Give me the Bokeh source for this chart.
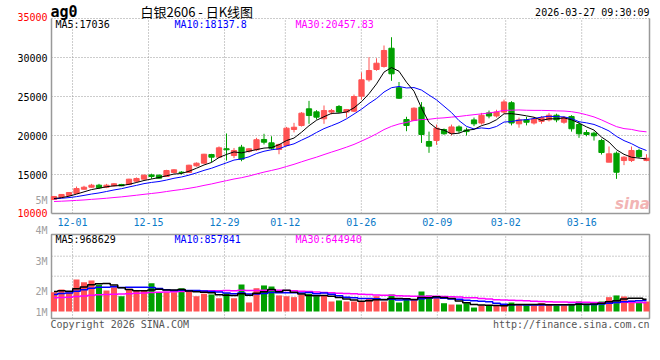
import numpy as np
from bokeh.plotting import figure
from bokeh.models import Range1d, Label
from bokeh.embed import file_html
from bokeh.resources import INLINE

# ---------------- data ----------------
opens = [11800, 12090, 12310, 12560, 13110, 13370, 13630, 13370, 13550, 13720,
         13720, 14140, 14400, 14950, 14910, 14740, 15260, 15300, 15260, 16110,
         16450, 17560, 17220, 18300, 17430, 18500, 17990, 18170, 19490, 19060,
         18210, 18720, 20770, 21280, 23420, 23030, 22140, 23000, 23720, 23000,
         23120, 25040, 27140, 28460, 28850, 31190, 26120, 22050, 21920, 23630,
         19230, 19360, 20770, 20300, 21100, 20700, 22000, 21600, 22900, 22500,
         23000, 24200, 21500, 22000, 21600, 21800, 22000, 22600, 21700, 22440,
         21410, 20380, 20300, 19360, 16580, 17730, 16790, 16790, 18080, 16790]
highs = [12250, 12500, 12750, 13460, 13550, 13800, 13800, 13800, 13900, 13800,
         14450, 14620, 15000, 15100, 15000, 15600, 15680, 15420, 16250, 16550,
         17650, 17650, 18600, 20260, 18400, 18800, 18400, 19700, 20220, 19900,
         18950, 21100, 21620, 23000, 24440, 23250, 23850, 23400, 23900, 23400,
         25250, 28090, 30040, 29900, 31540, 32600, 26860, 22400, 23600, 24280,
         20500, 21400, 20900, 21400, 21300, 21000, 22300, 22900, 23200, 23300,
         24600, 24400, 22300, 22400, 22400, 22500, 22900, 22800, 22500, 22600,
         21700, 20700, 20500, 19580, 18590, 17950, 17350, 18590, 18300, 17600]
lows = [11750, 12050, 12250, 12500, 13050, 13300, 13150, 13250, 13450, 13500,
        13650, 13950, 14350, 14450, 14450, 14700, 15130, 15000, 15200, 16000,
        16400, 16580, 17150, 16790, 17100, 16700, 17800, 18000, 18850, 18170,
        17600, 18600, 20400, 21150, 21500, 22050, 21500, 22700, 22900, 22300,
        23000, 24620, 26900, 28300, 28700, 27010, 24700, 20550, 21850, 19050,
        17780, 18800, 20100, 20000, 20300, 20000, 21200, 21400, 22200, 22300,
        22800, 21300, 21000, 21300, 21400, 21500, 21800, 21700, 21500, 20500,
        19700, 19900, 19350, 17560, 16580, 14440, 16200, 16600, 17100, 16700]
closes = [12180, 12440, 12690, 13200, 13370, 13630, 13300, 13630, 13810, 13550,
          14400, 14490, 14910, 14740, 14530, 15510, 15600, 15260, 16190, 16450,
          17600, 17220, 18420, 18170, 18080, 16960, 18290, 19460, 19140, 18370,
          18850, 20940, 21060, 22860, 22560, 22350, 23200, 23200, 23000, 23330,
          25000, 27140, 28330, 29270, 30900, 27910, 24780, 21280, 23500, 20130,
          18630, 20940, 20220, 21100, 20600, 20500, 21500, 22600, 22500, 23000,
          24300, 21600, 22000, 21700, 22100, 22300, 22600, 22000, 22300, 20860,
          20220, 20130, 19960, 17820, 17650, 15290, 17220, 18080, 17300, 17090]
volumes = [1470000, 1670000, 1470000, 2430000, 2230000, 2360000, 2030000, 1600000, 1850000, 1160000,
           1720000, 1550000, 1570000, 2150000, 1470000, 1470000, 1470000, 1770000, 1600000, 1160000,
           1340000, 1290000, 1010000, 1390000, 1010000, 2050000, 680000, 1770000, 1980000, 1900000,
           1220000, 1160000, 1090000, 1270000, 1340000, 1160000, 1220000, 760000, 840000, 760000,
           760000, 760000, 1010000, 1160000, 760000, 1290000, 680000, 910000, 910000, 1520000,
           1220000, 1040000, 630000, 530000, 530000, 630000, 300000, 460000, 460000, 460000,
           530000, 680000, 510000, 460000, 460000, 630000, 510000, 460000, 460000, 530000,
           760000, 530000, 530000, 760000, 1090000, 1220000, 1140000, 840000, 710000, 760000]
# closes / volumes of the 29 sessions before the window (needed for the moving averages)
prior_closes = [11200, 11350, 11500, 11650, 11400, 11250, 11300, 11100, 11050, 11200,
                11350, 11450, 11500, 11300, 11250, 11400, 11550, 11600, 11500, 11400,
                11700, 11850, 11950, 11800, 11900, 11900, 11750, 11850, 11920]
prior_volumes = [850000, 950000, 1050000, 900000, 800000, 850000, 950000, 1000000, 900000, 850000,
                 800000, 900000, 1000000, 950000, 900000, 850000, 950000, 1000000, 900000, 950000,
                 950000, 1000000, 1100000, 1050000, 1200000, 1400000, 1600000, 1500000, 1630000]

tick_labels = ["12-01", "12-15", "12-29", "01-12", "01-26", "02-09", "03-02", "03-16"]
tick_index = [3, 13, 23, 31, 41, 51, 60, 70]
price_ticks = [15000, 20000, 25000, 30000]
price_lo, price_hi = 10000, 35000
vol_labels = ["5M", "4M", "3M", "2M", "1M"]
title_code = "ag0"
title_text = "白银2606 - 日K线图"
timestamp = "2026-03-27 09:30:09"
ma_price_texts = ["MA5:17036", "MA10:18137.8", "MA30:20457.83"]
ma_vol_texts = ["MA5:968629", "MA10:857841", "MA30:644940"]

# ---------------- derived ----------------
n = len(closes)
idx = np.arange(n)
o = np.array(opens, float); h = np.array(highs, float)
l = np.array(lows, float); c = np.array(closes, float)
v = np.array(volumes, float)
allc = np.array(prior_closes + closes, float)
allv = np.array(prior_volumes + volumes, float)
P = len(prior_closes)


def ma(arr, k):
    return np.array([arr[P + i - k + 1:P + i + 1].mean() for i in range(n)])


up = c >= o
RED, GREEN = "#ff5353", "#00a000"
MONO = "DejaVu Sans Mono"
GRID = "#999999"
W, H = 660, 360

# ---- layout (pixels) ----
STEP = 7.5            # px per session
X_FIRST = 53.5        # px of first candle centre
PX0, PX1 = 51, 649    # panel left / right edge
PY_TOP, PY_BOT = 18, 213      # price panel top/bottom
VY_TOP, VY_BOT, VY_BASE = 234, 318, 311   # volume panel
VPX = 76000.0         # volume units per px
GRID_SCALE, GRID_SHIFT = 1.0133, -0.53
tick_pos = [3 + (i - 3) * GRID_SCALE + GRID_SHIFT for i in tick_index]

ppx = (price_hi - price_lo) / (PY_BOT - PY_TOP)   # price units per px
x_range = Range1d(-X_FIRST / STEP, (W - X_FIRST) / STEP)
y_range = Range1d(price_lo - (H - PY_BOT) * ppx, price_hi + PY_TOP * ppx)
vol_range = Range1d(-(H - VY_BASE) * VPX, VY_BASE * VPX)
dx0, dx1 = (PX0 - X_FIRST) / STEP, (PX1 - X_FIRST) / STEP
vlo, vhi = -(VY_BOT - VY_BASE) * VPX, (VY_BASE - VY_TOP) * VPX

p = figure(width=W, height=H, x_range=x_range, y_range=y_range,
           output_backend="svg", toolbar_location=None,
           x_axis_location=None, y_axis_location=None,
           min_border=0, min_border_left=0, min_border_right=0,
           min_border_top=0, min_border_bottom=0)
p.extra_y_ranges = {"vol": vol_range}
p.outline_line_color = None
p.background_fill_color = "white"
p.border_fill_color = "white"
p.grid.visible = False

# ---- grids ----
p.segment(x0=tick_pos, x1=tick_pos, y0=price_lo, y1=price_hi,
          line_color=GRID, line_dash="1 2", line_width=1)
p.segment(x0=dx0, x1=dx1, y0=price_ticks, y1=price_ticks,
          line_color=GRID, line_dash="1 2", line_width=1)
p.segment(x0=dx0, x1=dx1, y0=price_hi, y1=price_hi,
          line_color=GRID, line_dash="1 2", line_width=1)
vgrid = [(VY_BASE - y) * VPX for y in (255.7, 275.7, 295.7)]
p.segment(x0=tick_pos, x1=tick_pos, y0=vlo, y1=vhi, y_range_name="vol",
          line_color=GRID, line_dash="1 2", line_width=1)
p.segment(x0=dx0, x1=dx1, y0=vgrid, y1=vgrid, y_range_name="vol",
          line_color=GRID, line_dash="1 2", line_width=1)

# ---- panel borders ----
p.segment(x0=[dx0, dx1, dx0], x1=[dx0, dx1, dx1], y0=[price_lo, price_lo, price_lo],
          y1=[price_hi, price_hi, price_lo], line_color=GRID, line_width=1.5)
p.quad(left=dx0, right=dx1, bottom=vlo, top=vhi, y_range_name="vol",
       fill_color=None, line_color=GRID, line_width=1.5)

# ---- candles ----
col = [RED if u else GREEN for u in up]
p.segment(x0=idx, y0=l, x1=idx, y1=h, line_color=col, line_width=1)
p.vbar(x=idx, top=np.maximum(o, c), bottom=np.minimum(o, c), width=0.7,
       fill_color=col, line_color=col, line_width=1)

p.line(idx, ma(allc, 30), line_color="#ff00ff", line_width=1)
p.line(idx, ma(allc, 10), line_color="#0000ff", line_width=1)
p.line(idx, ma(allc, 5), line_color="#000000", line_width=1)

# ---- volume ----
p.vbar(x=idx, top=v, bottom=0, width=0.8, fill_color=col, line_color=None, y_range_name="vol")
p.step(idx, ma(allv, 30), mode="center", line_color="#ff00ff", line_width=1.5, y_range_name="vol")
p.step(idx, ma(allv, 10), mode="center", line_color="#0000ff", line_width=1.5, y_range_name="vol")
p.step(idx, ma(allv, 5), mode="center", line_color="#000000", line_width=1.5, y_range_name="vol")


# ---- texts ----
def txt(text, X, Y, color="#000000", size="10px", align="left", font=MONO, style="normal"):
    p.add_layout(Label(x=X, y=H - Y, x_units="screen", y_units="screen", text=text,
                       text_color=color, text_font_size=size, text_align=align,
                       text_baseline="middle", text_font=font, text_font_style=style))


txt(title_code, 50, 11, size="15px", style="bold")
txt(title_text, 140, 11, size="13px", font="Noto Sans CJK SC")
txt(timestamp, 649, 12, align="right")
for t, X, colr in zip(ma_price_texts, [55, 174, 295], ["#000000", "#0000ff", "#ff00ff"]):
    txt(t, X, 24, color=colr)
for t, X, colr in zip(ma_vol_texts, [55, 174, 295], ["#000000", "#0000ff", "#ff00ff"]):
    txt(t, X, 238.5, color=colr)

# price axis labels (positioned through the price scale)
for val in [price_lo] + price_ticks + [price_hi]:
    colr = "#ff0000" if val in (price_lo, price_hi) else "#000000"
    dy = {price_hi: 2, price_lo: 1}.get(val, 0)
    p.add_layout(Label(x=47, x_units="screen", y=val, y_offset=dy, text=str(val), text_color=colr,
                       text_font_size="10px", text_font=MONO, text_align="right",
                       text_baseline="middle"))
# date labels (positioned through the x scale)
for t, lab in zip(tick_pos, tick_labels):
    p.add_layout(Label(x=t, y=H - 221.5, y_units="screen", text=lab, text_color="#0a7ac8",
                       text_font_size="10px", text_font=MONO, text_align="center",
                       text_baseline="middle"))
# volume axis labels
for lab, Y in zip(vol_labels, [200, 230, 261, 291, 312]):
    txt(lab, 47, Y, color="#a0a0a0", align="right")

txt("Copyright 2026 SINA.COM", 50, 324, color="#555555")
txt("http://finance.sina.com.cn", 649, 324, color="#555555", align="right")
txt("sina", 632, 203, color="#f2b4b4", size="15px", align="center",
    font="DejaVu Sans", style="bold italic")

open("out.html", "w").write(file_html(p, INLINE))
